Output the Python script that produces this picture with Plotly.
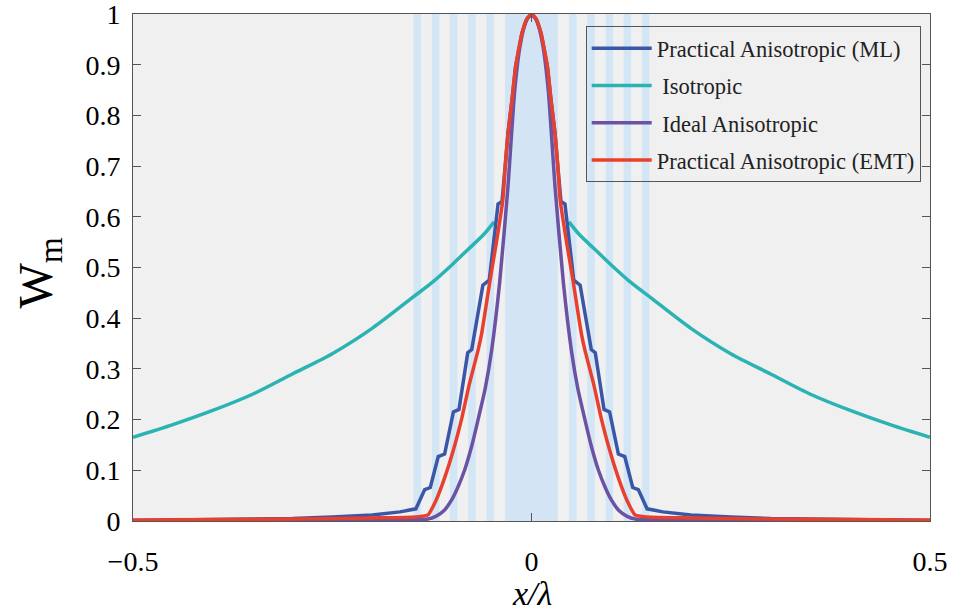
import plotly.graph_objects as go

# ---------------- data ----------------
# right half (x >= 0); curves are symmetric about x = 0
ml_x = [0, 0.006, 0.012, 0.02, 0.0245, 0.0295, 0.033, 0.037, 0.042, 0.053, 0.061,
        0.075, 0.080, 0.091, 0.098, 0.109, 0.117, 0.127, 0.134, 0.145, 0.165,
        0.2, 0.25, 0.3, 0.4, 0.5]
ml_y = [1.0, 0.99, 0.962, 0.896, 0.83, 0.765, 0.70, 0.63, 0.625, 0.475, 0.465,
        0.338, 0.332, 0.22, 0.215, 0.132, 0.127, 0.066, 0.062, 0.024, 0.018,
        0.012, 0.008, 0.005, 0.003, 0.001]

iso_x = [0.047, 0.06, 0.08, 0.1, 0.125, 0.15, 0.2, 0.25, 0.3, 0.35, 0.4, 0.45, 0.5]
iso_y = [0.59, 0.565, 0.535, 0.505, 0.47, 0.44, 0.38, 0.33, 0.29, 0.25, 0.218, 0.19, 0.165]

ideal_x = [0, 0.007, 0.014, 0.021, 0.0295, 0.04, 0.05, 0.058, 0.067, 0.075, 0.084,
           0.092, 0.1, 0.11, 0.12, 0.13, 0.15, 0.2, 0.3, 0.5]
ideal_y = [1.0, 0.985, 0.94, 0.85, 0.66, 0.47, 0.337, 0.262, 0.2, 0.148, 0.1,
           0.068, 0.042, 0.02, 0.009, 0.004, 0.003, 0.002, 0.001, 0.0]

emt_x = [0, 0.006, 0.012, 0.02, 0.0245, 0.0295, 0.033, 0.036, 0.044, 0.052, 0.0625,
         0.067, 0.078, 0.087, 0.098, 0.109, 0.12, 0.13, 0.145, 0.2, 0.3, 0.4, 0.5]
emt_y = [1.0, 0.99, 0.962, 0.896, 0.83, 0.765, 0.70, 0.633, 0.55, 0.475, 0.37,
         0.337, 0.27, 0.206, 0.14, 0.085, 0.04, 0.012, 0.008, 0.006, 0.004, 0.003, 0.002]

# layered region (x >= 0, mirrored): core block half-width and thin layers
core_half = 0.0332
layers = [(0.047, 0.0565), (0.070, 0.0795), (0.093, 0.1025), (0.1155, 0.125), (0.1385, 0.148)]

names = ["Practical Anisotropic (ML)", "\u00a0Isotropic", "\u00a0Ideal Anisotropic",
         "Practical Anisotropic (EMT)"]
colors = ["#3a56a6", "#2bb3b3", "#6b52a3", "#e8402e"]

x_ticks = [-0.5, 0, 0.5]
x_ticktext = ["\u22120.5", "0", "0.5"]
y_ticks = [0, 0.1, 0.2, 0.3, 0.4, 0.5, 0.6, 0.7, 0.8, 0.9, 1]


def mirror(xs, ys):
    X = [-v for v in reversed(xs)] + list(xs[1:] if xs[0] == 0 else xs)
    Y = list(reversed(ys)) + list(ys[1:] if xs[0] == 0 else ys)
    return X, Y


FONT = "Liberation Serif, Times New Roman, serif"
fig = go.Figure()

# Isotropic: two branches outside the core
iso_X = [-v for v in reversed(iso_x)] + [None] + iso_x
iso_Y = list(reversed(iso_y)) + [None] + iso_y
fig.add_trace(go.Scatter(x=iso_X, y=iso_Y, mode="lines", name=names[1], legendrank=2,
                         legendgroup="g2",
                         line=dict(color=colors[1], width=3.5, shape="spline", smoothing=0.8),
                         connectgaps=False))
X, Y = mirror(ml_x, ml_y)
fig.add_trace(go.Scatter(x=X, y=Y, mode="lines", name=names[0], legendrank=1, legendgroup="g1",
                         line=dict(color=colors[0], width=3.5)))
X, Y = mirror(ideal_x, ideal_y)
fig.add_trace(go.Scatter(x=X, y=Y, mode="lines", name=names[2], legendrank=3, legendgroup="g3",
                         line=dict(color=colors[2], width=3.5, shape="spline", smoothing=0.6)))
X, Y = mirror(emt_x, emt_y)
fig.add_trace(go.Scatter(x=X, y=Y, mode="lines", name=names[3], legendrank=4, legendgroup="g4",
                         line=dict(color=colors[3], width=3.5, shape="spline", smoothing=0.5)))

shapes = [dict(type="rect", xref="x", yref="y domain", x0=-core_half, x1=core_half, y0=0, y1=1,
               fillcolor="#d3e5f4", line=dict(width=0), layer="below")]
for a, b in layers:
    for s in (1, -1):
        shapes.append(dict(type="rect", xref="x", yref="y domain", x0=s * a, x1=s * b, y0=0, y1=1,
                           fillcolor="#d3e6f5", line=dict(width=0), layer="below"))

fig.update_layout(
    width=956, height=613,
    margin=dict(l=133, r=26, t=14, b=92, autoexpand=False),
    paper_bgcolor="white", plot_bgcolor="#f0f0f0",
    shapes=shapes,
    font=dict(family=FONT, color="black"),
    showlegend=True,
    legend=dict(x=0.568, y=0.976, xanchor="left", yanchor="top",
                bgcolor="rgba(0,0,0,0)", bordercolor="#555", borderwidth=1,
                font=dict(family=FONT, size=22.5, color="#222"),
                itemwidth=60, tracegroupgap=5),
    xaxis=dict(range=[-0.5, 0.5], tickvals=x_ticks, ticktext=x_ticktext, automargin=False,
               ticks="inside", ticklen=8, tickcolor="#555", showgrid=False, zeroline=False,
               showline=True, linecolor="#555", linewidth=1, mirror="ticks",
               tickfont=dict(family=FONT, size=28), ticklabelstandoff=15),
    yaxis=dict(range=[0, 1], tickvals=y_ticks, ticks="inside", ticklen=8, tickcolor="#555",
               showgrid=False, zeroline=False, showline=True, linecolor="#555", linewidth=1,
               mirror="ticks", tickfont=dict(family=FONT, size=28), ticklabelstandoff=6,
               ticklabeloverflow="allow", automargin=False),
    annotations=[
        dict(text="<i>x/λ</i>", xref="paper", yref="paper", x=0.5, y=-0.143, xanchor="center",
             yanchor="middle", showarrow=False, font=dict(family=FONT, size=34)),
        dict(text="W<sub>m</sub>", xref="paper", yref="paper", x=-0.118, y=0.49, xanchor="center",
             yanchor="middle", showarrow=False, textangle=-90, font=dict(family=FONT, size=48)),
    ],
)

fig.write_html("out.html")
